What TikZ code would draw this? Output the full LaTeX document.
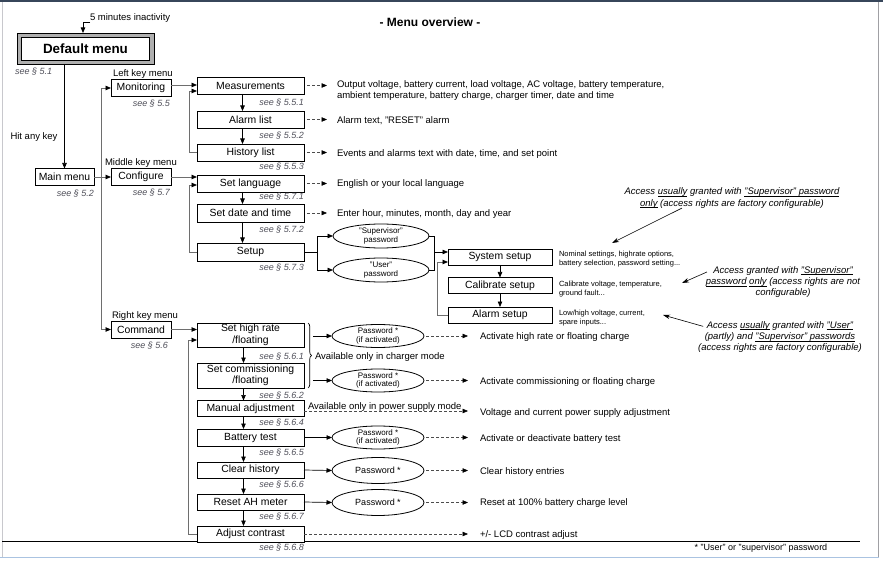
\documentclass[tikz,border=0pt]{standalone}
\usepackage{fontspec}
\setmainfont{Liberation Sans}
\usetikzlibrary{arrows.meta,shapes.geometric,decorations.pathreplacing,calc}
\definecolor{framedark}{RGB}{55,70,90}
\definecolor{framelight}{RGB}{200,200,205}
\definecolor{frameblue}{RGB}{170,195,225}
\definecolor{seegray}{RGB}{80,80,90}
\definecolor{feedgray}{RGB}{110,110,110}
\definecolor{bandgray}{RGB}{175,175,175}
\newcommand{\ulx}[1]{\underline{\smash{#1}}}
\begin{document}
\begin{tikzpicture}[x=1pt,y=-1pt,
  every node/.style={inner sep=0pt,outer sep=0pt},
  box/.style={draw=black,line width=0.9pt,fill=white,minimum height=17pt,align=center,font=\fontsize{10.4}{11.5}\selectfont},
  lbox/.style={box,minimum width=107pt},
  kbox/.style={box,minimum width=60pt},
  ubox/.style={box,minimum width=104pt,minimum height=16pt},
  ell/.style={draw=black,line width=0.8pt,ellipse,minimum width=92pt,minimum height=23pt,align=center,font=\fontsize{8}{8.8}\selectfont},
  lbl/.style={font=\fontsize{9.5}{11}\selectfont},
  desc/.style={font=\fontsize{9.5}{11}\selectfont,align=left},
  side/.style={font=\fontsize{7.5}{8.5}\selectfont,align=left},
  see/.style={text=seegray,font=\itshape\fontsize{9}{10}\selectfont},
  ann/.style={font=\itshape\fontsize{9.5}{11.2}\selectfont,align=center},
  arr/.style={-{Triangle[length=5.5pt,width=4.5pt,color=black]}},
  feed/.style={draw=feedgray,line width=0.8pt},
  link/.style={draw=black,line width=0.7pt},
  dsh/.style={draw=black!70,line width=0.6pt,dash pattern=on 3pt off 2pt},
  note/.style={draw=black,line width=0.6pt,-{Stealth[length=7pt,width=4.5pt]}},
]
\useasboundingbox (0,0) rectangle (883,561);
% frame
\draw[framelight,line width=0.8pt] (2,1) -- (2,557);
\draw[framelight!80!black,line width=0.8pt] (878,1) -- (878,557);
\draw[frameblue,line width=1.6pt] (0,557.5) -- (879,557.5);
\draw[framedark,line width=1.6pt] (0,1) -- (883,1);
\draw[black,line width=0.8pt] (2,541) -- (860,541);

% title
\node[font=\bfseries\fontsize{12}{14}\selectfont] (title) at (430,22) {- Menu overview -};

% default menu
\node[draw=black,line width=0.7pt,fill=bandgray,minimum width=137pt,minimum height=31pt] (defo) at (85.5,48.5) {};
\node[draw=black,line width=0.7pt,fill=white,minimum width=128pt,minimum height=23pt,font=\bfseries\fontsize{13.4}{15}\selectfont] (def) at (85.5,48.5) {Default menu};
\node[see,anchor=west] at ($(defo.south west)+(-2,8)$) {see § 5.1};
\node[lbl,anchor=south west] (inact) at (90,22) {5 minutes inactivity};
\draw[link,arr] (inact.south west) -| ([xshift=-2.5pt]defo.north);

% main menu
\node[lbl] (hit) at (34,137) {Hit any key};
\node[box,minimum width=59pt] (main) at (64.5,177) {Main menu};
\node[see,anchor=east] at ($(main.south east)+(0,8)$) {see § 5.2};
\draw[link,arr] (defo.south -| main.north) -- (main.north);

% key menus
\node[kbox] (mon) at (141,88) {Monitoring};
\node[lbl,anchor=south west] at ($(mon.north west)+(2,-1)$) {Left key menu};
\node[see,anchor=east] at ($(mon.south east)+(-1,7.5)$) {see § 5.5};
\node[kbox] (conf) at (141,177) {Configure};
\node[lbl,anchor=south west] at ($(conf.north west)+(-6,-1.5)$) {Middle key menu};
\node[see,anchor=east] at ($(conf.south east)+(-1,7.5)$) {see § 5.7};
\node[kbox] (cmd) at (141,329.5) {Command};
\node[lbl,anchor=south west] at ($(cmd.north west)+(1,-1)$) {Right key menu};
\node[see,anchor=east] at ($(cmd.south east)+(-3,8)$) {see § 5.6};

\coordinate (tr) at (101,177);
\draw[feed,arr] (main.east) -- (conf.west);
\draw[feed,arr] (tr) |- (mon.west);
\draw[feed,arr] (tr) |- (cmd.west);

% monitoring group
\node[lbox] (meas) at (250.5,85.5) {Measurements};
\node[lbox] (alarm) at (250.5,119.5) {Alarm list};
\node[lbox] (hist) at (250.5,152.5) {History list};
\node[see,anchor=east] at ($(meas.south east)+(0,9)$) {see § 5.5.1};
\node[see,anchor=east] at ($(alarm.south east)+(0,8)$) {see § 5.5.2};
\node[see,anchor=east] at ($(hist.south east)+(0,6)$) {see § 5.5.3};
\draw[link,arr] ([xshift=-8pt]meas.south) -- ([xshift=-8pt]alarm.north);
\draw[link,arr] ([xshift=-8pt]alarm.south) -- ([xshift=-8pt]hist.north);
\draw[feed,arr] ($(mon.east)+(0,-3)$) -- ($(mon.east -| meas.west)+(0,-3)$);
\draw[feed,arr] (hist.west) -- ++(-8,0) |- ($(meas.west)+(0,5.5)$);

\node[desc,anchor=west] (dmeas) at (337,91) {Output voltage, battery current, load voltage, AC voltage, battery temperature,\\ambient temperature, battery charge, charger timer, date and time};
\node[desc,anchor=west] (dalarm) at (337,121) {Alarm text, "RESET" alarm};
\node[desc,anchor=west] (dhist) at (337,154) {Events and alarms text with date, time, and set point};
\draw[dsh,arr] ($(meas.east)+(3,0)$) -- ($(dmeas.west |- meas.east)+(-10,0)$);
\draw[dsh,arr] ($(alarm.east)+(3,0)$) -- ($(dalarm.west |- alarm.east)+(-10,0)$);
\draw[dsh,arr] ($(hist.east)+(3,0)$) -- ($(dhist.west |- hist.east)+(-10,0)$);

% configure group
\node[lbox] (lang) at (250.5,183.5) {Set language};
\node[lbox,minimum height=18pt] (date) at (250.5,213) {Set date and time};
\node[lbox,minimum height=18pt] (setup) at (250.5,252) {Setup};
\node[see,anchor=east] at ($(lang.south east)+(0,5)$) {see § 5.7.1};
\node[see,anchor=east] at ($(date.south east)+(0,8)$) {see § 5.7.2};
\node[see,anchor=east] at ($(setup.south east)+(0,7)$) {see § 5.7.3};
\draw[link,arr] ([xshift=-8pt]lang.south) -- ([xshift=-8pt]date.north);
\draw[link,arr] ([xshift=-8pt]date.south) -- ([xshift=-8pt]setup.north);
\draw[feed,arr] (conf.east) -- (conf.east -| lang.west);
\draw[feed,arr] (setup.west) -- ++(-8,0) |- ($(lang.west)+(0,1.5)$);

\node[desc,anchor=west] (dlang) at (337,184) {English or your local language};
\node[desc,anchor=west] (ddate) at (337,214) {Enter hour, minutes, month, day and year};
\draw[dsh,arr] ($(lang.east)+(3,0)$) -- ($(dlang.west |- lang.east)+(-10,0)$);
\draw[dsh,arr] ($(date.east)+(3,0)$) -- ($(ddate.west |- date.east)+(-10,0)$);

% setup branches
\node[ell,minimum width=96pt,minimum height=24pt] (sup) at (381,236) {"Supervisor"\\password};
\node[ell,minimum width=96pt,minimum height=24pt] (usr) at (381,270) {"User"\\password};
\draw[link] (setup.east) -- ++(13,0) coordinate (sb);
\draw[link,arr] (sb) |- (sup.west);
\draw[link,arr] (sb) |- (usr.west);

\node[ubox] (sys) at (500,257) {System setup};
\node[ubox] (cal) at (500,285.5) {Calibrate setup};
\node[ubox] (alm) at (500,315) {Alarm setup};
\coordinate (jn) at (434,252);
\draw[link] (sup.east) -| (jn);
\draw[link] (usr.east) -| (jn);
\draw[link,arr] (jn) -- (jn -| sys.west);
\draw[link,arr] (sys.south) -- (cal.north);
\draw[link,arr] (cal.south) -- (alm.north);
\draw[feed,arr] (alm.west) -- ++(-11,0) |- ($(sys.west)+(0,5)$);

\node[side,anchor=west] (ssys) at (559,259) {Nominal settings, highrate options,\\battery selection, password setting...};
\node[side,anchor=west] (scal) at (559,289) {Calibrate voltage, temperature,\\ground fault...};
\node[side,anchor=west] (salm) at (559,318) {Low/high voltage, current,\\spare inputs...};

% annotations
\node[ann] (ann1) at (732,198) {Access \ulx{usually} granted with \ulx{"Supervisor" password}\\\ulx{only} (access rights are factory configurable)};
\node[ann] (ann2) at (783,282) {Access granted with \ulx{"Supervisor"}\\\ulx{password} \ulx{only} (access rights are not\\configurable)};
\node[ann] (ann3) at (780,337) {Access \ulx{usually} granted with \ulx{"User"}\\(partly) and \ulx{"Supervisor" passwords}\\(access rights are factory configurable)};
\coordinate (a1t) at (612,243);
\coordinate (a2t) at (682,283);
\coordinate (a3t) at (663,315);
\draw[note] ($(ann1.south)+(-50,0)$) -- (a1t);
\draw[note] ($(ann2.west)+(1,-10)$) -- (a2t);
\draw[note] ($(ann3.north west)+(5,5)$) -- (a3t);

% command group
\node[lbox,minimum height=24pt] (high) at (250.5,335) {Set high rate\\/floating};
\node[lbox,minimum height=25pt] (comm) at (250.5,375.5) {Set commissioning\\/floating};
\node[lbox,minimum height=16pt] (manual) at (250.5,408.5) {Manual adjustment};
\node[lbox] (batt) at (250.5,437.5) {Battery test};
\node[lbox,minimum height=16pt] (clear) at (250.5,470) {Clear history};
\node[lbox,minimum height=16pt] (reset) at (250.5,502) {Reset AH meter};
\node[lbox,minimum height=16pt] (contrast) at (250.5,534) {Adjust contrast};
\node[see,anchor=east] at ($(high.south east)+(0,10)$) {see § 5.6.1};
\node[see,anchor=east] at ($(comm.south east)+(0,8)$) {see § 5.6.2};
\node[see,anchor=east] at ($(manual.south east)+(0,6.5)$) {see § 5.6.4};
\node[see,anchor=east] at ($(batt.south east)+(0,7)$) {see § 5.6.5};
\node[see,anchor=east] at ($(clear.south east)+(0,7)$) {see § 5.6.6};
\node[see,anchor=east] at ($(reset.south east)+(0,7)$) {see § 5.6.7};
\node[see,anchor=east] at ($(contrast.south east)+(0,6)$) {see § 5.6.8};
\draw[link,arr] ([xshift=-7pt]high.south) -- ([xshift=-7pt]comm.north);
\draw[link,arr] ([xshift=-7pt]comm.south) -- ([xshift=-7pt]manual.north);
\draw[link,arr] ([xshift=-7pt]manual.south) -- ([xshift=-7pt]batt.north);
\draw[link,arr] ([xshift=-7pt]batt.south) -- ([xshift=-7pt]clear.north);
\draw[link,arr] ([xshift=-7pt]clear.south) -- ([xshift=-7pt]reset.north);
\draw[link,arr] ([xshift=-7pt]reset.south) -- ([xshift=-7pt]contrast.north);
\draw[feed,arr] (cmd.east) -- (cmd.east -| high.west);
\draw[feed,arr] (contrast.west) -- ++(-9,0) |- ($(high.west)+(0,5)$);

\draw[link,decorate,decoration={brace,amplitude=3.5pt}] ($(high.north east)+(4,0)$) -- ($(comm.south east)+(4,0)$);
\node[desc,anchor=west] (charger) at (315,357) {Available only in charger mode};
\coordinate (brx) at ($(high.east)+(9,0)$);

\node[ell] (pw1) at (378,336) {Password *\\(if activated)};
\node[ell] (pw2) at (378,380.5) {Password *\\(if activated)};
\node[ell] (pw3) at (378,437.5) {Password *\\(if activated)};
\node[ell,minimum height=26pt,font=\fontsize{9}{10}\selectfont] (pw4) at (378,470.5) {Password *};
\node[ell,minimum height=26pt,font=\fontsize{9}{10}\selectfont] (pw5) at (378,502.5) {Password *};
\draw[link,arr] (brx |- pw1.west) -- (pw1.west);
\draw[link,arr] (brx |- pw2.west) -- (pw2.west);
\draw[link,arr] (batt.east) -- (pw3.west);
\draw[link,arr] (clear.east) -- (pw4.west);
\draw[link,arr] (reset.east) -- (pw5.west);

\node[desc,anchor=base west] (psm) at (308,409) {Available only in power supply mode};

\node[desc,anchor=west] (dpw1) at (480,337) {Activate high rate or floating charge};
\node[desc,anchor=west] (dpw2) at (480,382) {Activate commissioning or floating charge};
\node[desc,anchor=west] (dman) at (480,413) {Voltage and current power supply adjustment};
\node[desc,anchor=west] (dpw3) at (480,439) {Activate or deactivate battery test};
\node[desc,anchor=west] (dpw4) at (480,472) {Clear history entries};
\node[desc,anchor=west] (dpw5) at (480,503.5) {Reset at 100\% battery charge level};
\node[desc,anchor=west] (dcon) at (480,535) {+/- LCD contrast adjust};
\draw[dsh,arr] ($(pw1.east)+(2,0)$) -- ($(dpw1.west |- pw1.east)+(-12,0)$);
\draw[dsh,arr] ($(pw2.east)+(2,0)$) -- ($(dpw2.west |- pw2.east)+(-12,0)$);
\draw[dsh,arr] ($(manual.east)+(0,2.5)$) -- ($(dman.west |- manual.east)+(-12,2.5)$);
\draw[dsh,arr] ($(pw3.east)+(2,0)$) -- ($(dpw3.west |- pw3.east)+(-12,0)$);
\draw[dsh,arr] ($(pw4.east)+(2,0)$) -- ($(dpw4.west |- pw4.east)+(-12,0)$);
\draw[dsh,arr] ($(pw5.east)+(2,0)$) -- ($(dpw5.west |- pw5.east)+(-12,0)$);
\draw[dsh,arr] (contrast.east) -- ($(dcon.west |- contrast.east)+(-12,0)$);

\node[font=\fontsize{9}{10}\selectfont] (fn) at (761,548.5) {* "User" or "supervisor" password};
\end{tikzpicture}
\end{document}
